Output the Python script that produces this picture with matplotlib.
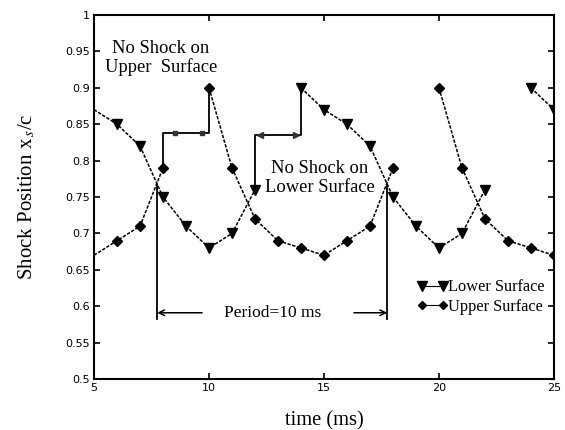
import numpy as np
import matplotlib
matplotlib.use('Agg')
from matplotlib import pyplot as plt

# shock position on the lower surface (triangles), split where the shock vanishes
lower_t1 = [5, 6, 7, 8, 9, 10, 11, 12]
lower_y1 = [0.87, 0.85, 0.82, 0.75, 0.71, 0.68, 0.70, 0.76]
lower_t2 = [14, 15, 16, 17, 18, 19, 20, 21, 22]
lower_y2 = [0.90, 0.87, 0.85, 0.82, 0.75, 0.71, 0.68, 0.70, 0.76]
lower_t3 = [24, 25]
lower_y3 = [0.90, 0.87]

# shock position on the upper surface (diamonds)
upper_t1 = [5, 6, 7, 8]
upper_y1 = [0.67, 0.69, 0.71, 0.79]
upper_t2 = [10, 11, 12, 13, 14, 15, 16, 17, 18]
upper_y2 = [0.90, 0.79, 0.72, 0.69, 0.68, 0.67, 0.69, 0.71, 0.79]
upper_t3 = [20, 21, 22, 23, 24, 25]
upper_y3 = [0.90, 0.79, 0.72, 0.69, 0.68, 0.67]

# "no shock" steps
upper_gap_t = [8, 8, 10, 10]
upper_gap_y = [0.79, 0.838, 0.838, 0.90]
lower_gap_t = [12, 12, 14, 14]
lower_gap_y = [0.76, 0.835, 0.835, 0.90]

period_start = 7.75
period_end = 17.75

xticks = [5, 10, 15, 20, 25]
yticks = np.arange(0.5, 1.0001, 0.05)
ylabels = ['0.5', '0.55', '0.6', '0.65', '0.7', '0.75', '0.8', '0.85', '0.9', '0.95', '1']

serif = 'Liberation Serif'
plt.rcParams['mathtext.fontset'] = 'stix'

fig = plt.figure(figsize=(5.65, 4.3), dpi=100)
ax = fig.add_axes([0.1664, 0.1186, 0.8141, 0.8464])

dash = (0, (2.2, 1.0))
kw_low = dict(color='black', linestyle=dash, linewidth=1.1, marker='v', markersize=7.5)
kw_up = dict(color='black', linestyle=dash, linewidth=1.1, marker='D', markersize=5)
# the curves entering at t=5 show no marker there
ax.plot(lower_t1, lower_y1, markevery=list(range(1, len(lower_t1))), **kw_low)
ax.plot(lower_t2, lower_y2, **kw_low)
ax.plot(lower_t3, lower_y3, **kw_low)
ax.plot(upper_t1, upper_y1, markevery=list(range(1, len(upper_t1))), **kw_up)
ax.plot(upper_t2, upper_y2, **kw_up)
ax.plot(upper_t3, upper_y3, **kw_up)

ax.plot(upper_gap_t, upper_gap_y, color='black', linewidth=1.3)
ax.plot([8.5, 9.7], [0.838, 0.838], linestyle='none', marker='s', markersize=3.5, color='#333333')
ax.plot(lower_gap_t, lower_gap_y, color='black', linewidth=1.3)
ax.plot([12.2], [0.835], linestyle='none', marker='<', markersize=4, color='#333333')
ax.plot([13.8], [0.835], linestyle='none', marker='>', markersize=4, color='#333333')

# period markers
ax.plot([period_start, period_start], [0.766, 0.583], color='black', linewidth=1.3)
ax.plot([period_end, period_end], [0.766, 0.583], color='black', linewidth=1.3)
ax.annotate('', xy=(period_start, 0.591), xytext=(9.7, 0.591),
            arrowprops=dict(arrowstyle='->', color='black', lw=1.1, shrinkA=0, shrinkB=0))
ax.annotate('', xy=(period_end, 0.591), xytext=(16.3, 0.591),
            arrowprops=dict(arrowstyle='->', color='black', lw=1.1, shrinkA=0, shrinkB=0))
ax.text(12.75, 0.591, 'Period=10 ms', family=serif, fontsize=12.5, ha='center', va='center')

ax.text(7.9, 0.941, 'No Shock on\nUpper  Surface', family=serif, fontsize=13.3,
        ha='center', va='center', linespacing=1.15)
ax.text(14.8, 0.776, 'No Shock on\nLower Surface', family=serif, fontsize=13.3,
        ha='center', va='center', linespacing=1.15)

# legend
h_low, = ax.plot([], [], color='black', linewidth=0.8, marker='v', markersize=7.5)
h_up, = ax.plot([], [], color='black', linewidth=0.8, marker='D', markersize=4)
ax.legend([h_low, h_up], ['Lower Surface', 'Upper Surface'], loc='center left',
          bbox_to_anchor=(0.67, 0.225), frameon=False, numpoints=2, handlelength=1.9,
          handletextpad=0.0, labelspacing=0.2, prop=dict(family=serif, size=11.8))

ax.set_xlim(5, 25)
ax.set_ylim(0.5, 1.0)
ax.set_xticks(xticks)
ax.set_yticks(yticks)
ax.set_yticklabels(ylabels)
ax.tick_params(direction='in', top=True, right=True, length=4, width=1.2, labelsize=8, pad=3)
for s in ax.spines.values():
    s.set_linewidth(1.5)

ax.set_xlabel('time (ms)', family=serif, fontsize=14.8, labelpad=13)
ax.set_ylabel(r'Shock Position x$_{\,s}$/c', family=serif, fontsize=15, labelpad=20)

fig.savefig('out.png', dpi=100)
